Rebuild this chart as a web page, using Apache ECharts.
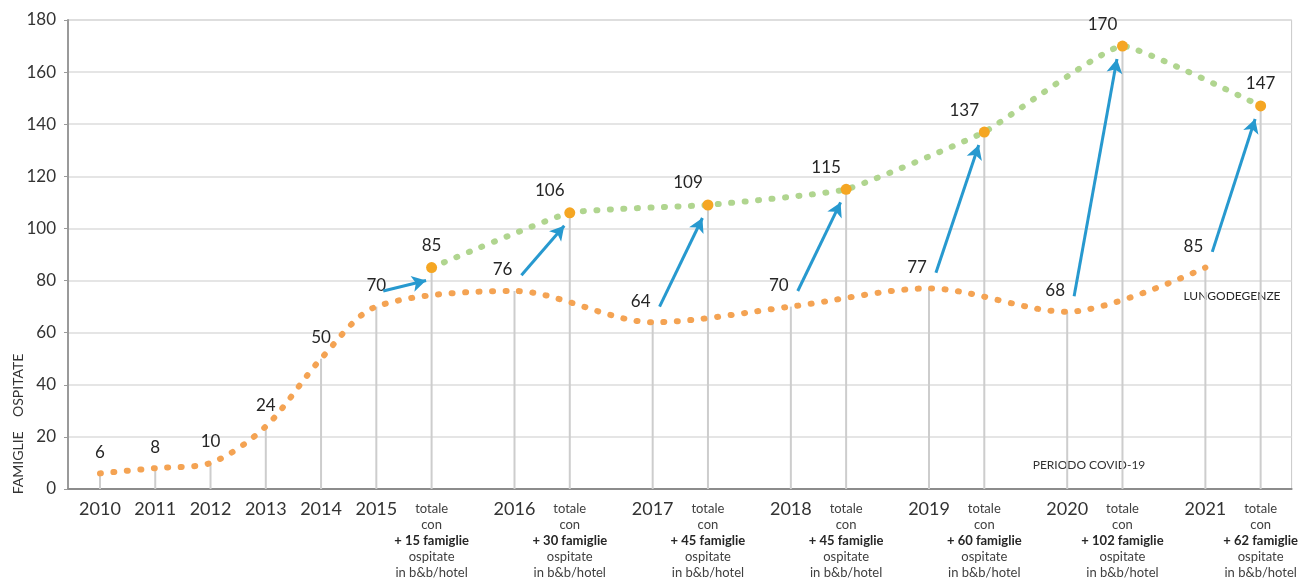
<!DOCTYPE html>
<html>
<head>
<meta charset="utf-8">
<title>Famiglie ospitate 2010-2021</title>
<script src="https://cdn.jsdelivr.net/npm/echarts@6/dist/echarts.min.js"></script>
<style>
  html, body { margin: 0; padding: 0; background: #ffffff; }
  #chart { width: 1301px; height: 580px; }
</style>
</head>
<body>
<div id="chart"></div>
<script>
// Years on the horizontal axis
const years = ['2010', '2011', '2012', '2013', '2014', '2015', '2016', '2017', '2018', '2019', '2020', '2021'];
// Long-stay families per year (lungodegenze)
const longStay = [6, 8, 10, 24, 50, 70, 76, 64, 70, 77, 68, 85];
// Extra families hosted in b&b/hotel, from 2015 on
const extraFamilies = [15, 30, 45, 45, 60, 102, 62];
// Total families including those hosted in b&b/hotel, from 2015 on
const totals = [85, 106, 109, 115, 137, 170, 147];
// Value-axis ticks
const yTicks = [0, 20, 40, 60, 80, 100, 120, 140, 160, 180];

const FONT = 'Lato, "Open Sans", sans-serif';
const FIRST_TOTAL_YEAR = 5; // index of 2015

// Slot positions along x: years two slots apart, a "totale" slot two after
// each year from 2015, and three slots from a "totale" to the next year.
const yearPos = [];
const totPos = [];
let p = 0;
years.forEach((y, i) => {
  yearPos.push(p);
  if (i >= FIRST_TOTAL_YEAR) { totPos.push(p + 2); p += 5; } else { p += 2; }
});

const labelAt = {};
yearPos.forEach((x, i) => { labelAt[x] = '{y|' + years[i] + '}'; });
totPos.forEach((x, k) => {
  labelAt[x] = '{t|totale}\n{t|con}\n{b|+ ' + extraFamilies[k] + ' famiglie}\n{t|ospitate}\n{t|in b&b/hotel}';
});

const longData = yearPos.map((x, i) => [x, longStay[i]]);
const totalData = totPos.map((x, k) => [x, totals[k]]);
const dropData = longData.concat(totalData);

// Arrows from each year's long-stay value to the matching total
const arrows = totPos.map((x, k) => {
  const yi = FIRST_TOTAL_YEAR + k;
  return [
    { coord: [yearPos[yi] + 0.25, longStay[yi] + 6] },
    { coord: [x - 0.2, totals[k] - 5] }
  ];
});

const dotted = color => ({ color: color, width: 6, type: [1, 12.5], cap: 'round' });

const chart = echarts.init(document.getElementById('chart'), null, { renderer: 'canvas' });

chart.setOption({
  animation: false,
  backgroundColor: '#ffffff',
  textStyle: { fontFamily: FONT },
  grid: {
    left: 68, right: 8, top: 20, bottom: 91,
    show: true, borderColor: '#c9c9c9', borderWidth: 1
  },
  xAxis: {
    type: 'value',
    min: -1.157,
    max: 43.12,
    splitLine: { show: false },
    axisTick: { show: false },
    axisLine: { show: true, onZero: false, lineStyle: { color: '#8c8c8c', width: 2 } },
    axisLabel: {
      customValues: yearPos.concat(totPos),
      margin: 12,
      verticalAlign: 'top',
      formatter: v => labelAt[Math.round(v)] || '',
      rich: {
        y: { fontSize: 18, color: '#333333', fontFamily: FONT, lineHeight: 17 },
        t: { fontSize: 13, color: '#404040', fontFamily: FONT, lineHeight: 16 },
        b: { fontSize: 13, color: '#262626', fontWeight: 'bold', fontFamily: FONT, lineHeight: 16 }
      }
    }
  },
  yAxis: {
    type: 'value',
    min: 0,
    max: yTicks[yTicks.length - 1],
    interval: yTicks[1] - yTicks[0],
    axisLine: { show: true, onZero: false, lineStyle: { color: '#9a9a9a', width: 2 } },
    axisTick: { show: true, length: 4, lineStyle: { color: '#9a9a9a' } },
    axisLabel: { fontSize: 17, color: '#333333', margin: 12, fontFamily: FONT },
    splitLine: { lineStyle: { color: '#dcdcdc', width: 1.5 } }
  },
  graphic: [
    {
      type: 'text',
      x: 18, y: 424,
      rotation: Math.PI / 2,
      style: {
        text: 'FAMIGLIE    OSPITATE',
        fontSize: 14, fontFamily: FONT, fill: '#333333',
        align: 'center', verticalAlign: 'middle'
      }
    },
    {
      type: 'text',
      x: 1232, y: 296,
      style: {
        text: 'LUNGODEGENZE',
        fontSize: 12, fontFamily: FONT, fill: '#262626',
        align: 'center', verticalAlign: 'middle'
      }
    },
    {
      type: 'text',
      x: 1089, y: 465,
      style: {
        text: 'PERIODO COVID-19',
        fontSize: 12, fontFamily: FONT, fill: '#333333',
        align: 'center', verticalAlign: 'middle'
      }
    }
  ],
  series: [
    {
      // thin grey drop lines from the axis up to every point
      type: 'bar',
      data: dropData,
      barWidth: 2,
      itemStyle: { color: '#cdcdcd' },
      silent: true,
      z: 1
    },
    {
      name: 'Lungodegenze',
      type: 'line',
      data: longData,
      smooth: 0.3,
      symbol: 'circle',
      symbolSize: 1,
      itemStyle: { color: 'rgba(0,0,0,0)' },
      lineStyle: dotted('#f4a353'),
      label: {
        show: true,
        position: 'top',
        distance: 12,
        fontSize: 17,
        color: '#262626',
        fontFamily: FONT,
        formatter: prm => String(prm.value[1])
      },
      labelLayout: prm => (prm.dataIndex > FIRST_TOTAL_YEAR ? { dx: -12 } : {}),
      z: 3
    },
    {
      name: 'Totale',
      type: 'line',
      data: totalData,
      smooth: 0.12,
      symbol: 'circle',
      symbolSize: 11,
      showSymbol: true,
      itemStyle: { color: '#f5a623' },
      lineStyle: dotted('#b0d58f'),
      label: {
        show: true,
        position: 'top',
        distance: 8,
        fontSize: 17,
        color: '#262626',
        fontFamily: FONT,
        formatter: prm => String(prm.value[1])
      },
      labelLayout: prm => (prm.dataIndex > 0 && prm.dataIndex < totals.length - 1 ? { dx: -20 } : {}),
      markLine: {
        silent: true,
        symbol: ['none', 'arrow'],
        symbolSize: [12, 14],
        label: { show: false },
        lineStyle: { color: '#2799cf', width: 3, type: 'solid' },
        data: arrows
      },
      z: 4
    }
  ]
});
</script>
</body>
</html>
